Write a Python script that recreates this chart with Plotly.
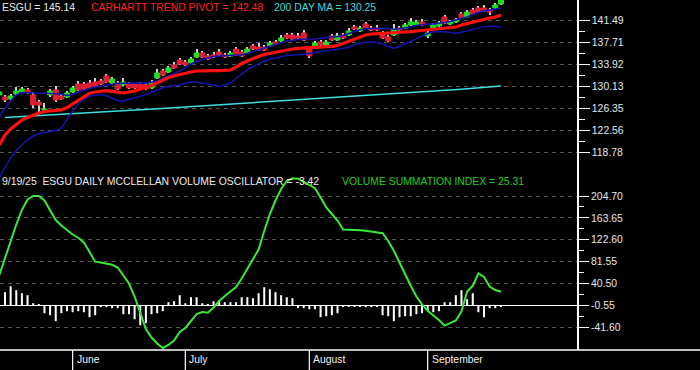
import pandas as pd
import plotly.graph_objects as go

# ---------------- data ----------------
DATES = [d for d in pd.bdate_range("2025-05-13", "2025-09-19")
         if d.strftime("%Y-%m-%d") not in ("2025-05-26", "2025-06-19", "2025-07-04", "2025-09-01")]

OPEN = [128.71, 128.36, 128.02, 128.88, 129.22, 129.57, 128.71, 127.50, 126.13, 128.71,
        129.57, 128.53, 128.36, 129.22, 130.60, 130.60, 130.77, 130.94, 131.11, 131.97,
        130.77, 130.77, 130.43, 130.60, 130.60, 130.60, 130.43, 129.91, 131.63, 132.83,
        132.66, 133.87, 134.73, 134.38, 134.21, 135.24, 135.93, 135.42, 135.59, 136.10,
        135.59, 135.42, 136.62, 136.10, 135.93, 137.14, 136.96, 136.96, 137.14, 137.82,
        138.00, 139.03, 139.03, 138.86, 139.37, 136.62, 136.79, 137.82, 137.31, 138.86,
        138.17, 139.03, 139.03, 140.40, 139.72, 140.92, 140.23, 140.23, 139.37, 138.68,
        139.03, 140.23, 140.23, 140.75, 140.75, 141.27, 138.86, 140.23, 140.58, 142.13,
        140.92, 141.27, 142.64, 142.13, 143.33, 143.67, 143.67, 143.33, 143.67, 144.36]
HIGH = [129.57, 128.71, 128.88, 130.08, 130.08, 129.91, 129.22, 127.85, 127.33, 129.74,
        130.25, 128.88, 129.39, 130.25, 131.11, 130.94, 131.29, 131.63, 131.46, 132.32,
        131.80, 131.11, 131.63, 130.94, 130.77, 130.94, 130.77, 131.29, 133.18, 133.18,
        133.69, 134.38, 135.07, 134.73, 135.24, 136.62, 136.28, 135.76, 136.10, 136.62,
        135.93, 136.28, 136.96, 136.45, 136.96, 137.48, 137.65, 137.31, 138.00, 138.17,
        139.03, 139.37, 139.37, 139.37, 139.89, 136.96, 138.00, 138.17, 138.17, 139.20,
        139.37, 139.37, 140.23, 140.75, 140.58, 141.27, 140.58, 140.75, 139.72, 139.03,
        140.92, 140.58, 141.09, 141.95, 141.61, 141.78, 139.72, 141.09, 141.44, 142.47,
        141.61, 141.95, 142.99, 143.33, 143.67, 144.02, 144.19, 143.67, 144.53, 145.22]
LOW = [128.36, 127.50, 127.85, 128.71, 129.05, 128.88, 126.47, 125.78, 125.95, 128.36,
       127.50, 127.85, 128.19, 129.05, 129.39, 129.57, 129.74, 130.08, 130.43, 130.77,
       130.60, 129.57, 130.25, 129.74, 129.74, 129.57, 129.57, 129.74, 131.46, 131.97,
       132.49, 133.18, 133.87, 133.69, 134.04, 135.07, 135.07, 134.73, 135.07, 135.42,
       135.07, 135.24, 135.42, 135.24, 135.76, 136.45, 136.28, 136.28, 136.96, 137.31,
       137.82, 138.34, 138.17, 138.17, 138.00, 135.07, 136.62, 137.14, 137.14, 138.00,
       138.00, 138.34, 138.86, 139.89, 139.54, 140.06, 139.72, 139.72, 138.34, 137.82,
       138.86, 139.72, 140.06, 140.58, 140.58, 140.58, 138.51, 140.06, 140.40, 140.92,
       140.75, 141.09, 141.78, 141.95, 142.47, 142.81, 142.99, 142.47, 143.50, 144.19]
CLOSE = [129.22, 127.85, 128.53, 129.39, 129.74, 129.05, 126.99, 126.99, 126.30, 129.39,
         127.85, 128.02, 129.05, 129.91, 129.57, 129.74, 129.91, 130.25, 130.60, 130.94,
         131.46, 129.74, 130.94, 129.91, 129.91, 129.91, 129.74, 130.77, 132.49, 132.15,
         133.35, 133.35, 134.04, 133.87, 134.90, 135.93, 135.24, 134.90, 135.24, 135.59,
         135.24, 135.93, 135.59, 135.42, 136.62, 136.62, 136.45, 136.45, 137.65, 137.48,
         138.51, 138.51, 138.34, 138.51, 138.17, 135.42, 137.65, 137.31, 137.82, 138.17,
         138.86, 138.51, 139.72, 140.06, 140.23, 140.23, 139.89, 139.89, 138.51, 138.00,
         140.06, 139.89, 140.75, 141.27, 141.27, 140.75, 139.37, 140.75, 141.09, 141.09,
         141.27, 141.61, 141.95, 142.99, 142.64, 142.99, 143.16, 142.99, 144.19, 145.14]

TREND_PIVOT = [120.10, 121.82, 122.86, 123.72, 124.40, 124.83, 125.26, 125.61, 125.87, 125.95,
               126.04, 126.12, 126.55, 127.16, 127.84, 128.53, 129.00, 129.22, 129.39, 129.45,
               129.34, 129.14, 129.05, 129.22, 129.39, 129.74, 130.00, 130.34, 130.77, 131.29,
               131.72, 131.97, 132.23, 132.49, 132.66, 132.83, 132.89, 132.89, 132.89, 132.89,
               132.92, 133.01, 133.52, 134.12, 134.55, 134.99, 135.33, 135.67, 135.88, 136.02,
               136.19, 136.45, 136.62, 136.74, 136.79, 136.84, 136.88, 136.93, 136.96, 137.08,
               137.22, 137.57, 137.91, 138.25, 138.68, 139.03, 139.20, 139.32, 139.32, 139.37,
               139.42, 139.42, 139.46, 139.60, 139.72, 139.80, 139.97, 140.06, 140.15, 140.18,
               140.18, 140.40, 140.75, 141.01, 141.26, 141.47, 141.70, 141.95, 142.13, 142.48]
UPPER_BAND = [124.92, 126.42, 127.67, 128.71, 129.14, 129.05, 129.00, 129.00, 129.00, 129.00,
              128.96, 128.88, 128.62, 128.79, 129.22, 129.57, 129.82, 130.08, 130.25, 130.43,
              130.60, 130.68, 130.72, 130.77, 130.82, 130.77, 130.72, 130.86, 131.11, 131.54,
              131.97, 132.32, 132.83, 133.44, 134.04, 134.47, 134.81, 135.07, 135.33, 135.42,
              135.54, 135.59, 135.59, 135.59, 135.85, 136.10, 136.45, 136.79, 137.05, 137.39,
              137.70, 138.00, 138.17, 138.25, 138.29, 138.29, 138.34, 138.46, 138.60, 138.68,
              138.74, 138.94, 139.29, 139.63, 139.92, 140.09, 140.15, 140.18, 140.18, 140.15,
              140.03, 140.09, 140.18, 140.40, 140.66, 140.83, 140.92, 140.92, 141.01, 141.18,
              141.35, 141.61, 141.87, 142.13, 142.56, 142.90, 143.19, 143.33, 143.50, 143.67]
LOWER_BAND = [114.60, 116.32, 117.87, 119.16, 120.19, 121.05, 121.65, 122.08, 122.25, 122.39,
              122.56, 123.03, 124.49, 125.95, 127.16, 127.93, 128.50, 128.71, 128.79, 128.57,
              128.10, 127.76, 127.67, 127.93, 128.28, 128.53, 128.79, 129.14, 129.60, 129.96,
              130.20, 130.32, 130.43, 130.72, 130.98, 130.89, 130.77, 130.65, 130.43, 130.17,
              130.43, 130.77, 131.54, 132.32, 133.01, 133.61, 134.12, 134.55, 134.85, 135.07,
              135.33, 135.50, 135.59, 135.62, 135.71, 135.85, 136.02, 136.19, 136.31, 136.40,
              136.57, 136.71, 136.91, 137.31, 137.65, 137.77, 137.82, 137.74, 137.48, 137.05,
              136.74, 137.05, 137.48, 137.96, 138.43, 138.91, 139.29, 139.60, 139.60, 139.60,
              139.46, 139.32, 139.49, 139.75, 139.99, 140.23, 140.47, 140.54, 140.52, 140.37]
MA200 = [None, 124.83, 124.88, 124.93, 124.98, 125.03, 125.08, 125.13, 125.18, 125.23,
         125.28, 125.33, 125.38, 125.43, 125.49, 125.55, 125.61, 125.67, 125.73, 125.79,
         125.85, 125.91, 125.97, 126.03, 126.09, 126.15, 126.21, 126.27, 126.33, 126.39,
         126.45, 126.51, 126.57, 126.63, 126.69, 126.75, 126.81, 126.87, 126.93, 126.99,
         127.05, 127.11, 127.17, 127.23, 127.29, 127.35, 127.41, 127.47, 127.53, 127.59,
         127.65, 127.71, 127.77, 127.83, 127.89, 127.95, 128.01, 128.07, 128.13, 128.19,
         128.25, 128.31, 128.37, 128.43, 128.49, 128.55, 128.61, 128.67, 128.73, 128.79,
         128.85, 128.91, 128.97, 129.03, 129.09, 129.15, 129.21, 129.29, 129.37, 129.45,
         129.53, 129.61, 129.69, 129.77, 129.85, 129.93, 130.01, 130.09, 130.17, 130.25]

VOL_SUMMATION = [56.62, 88.49, 120.35, 151.28, 178.46, 198.14, 204.70, 204.70, 196.27, 176.58,
                 159.71, 149.41, 140.60, 132.54, 126.54, 117.54, 99.73, 81.55, 80.05, 78.55,
                 75.74, 70.68, 56.62, 40.69, 16.32, -12.73, -44.60, -60.53, -71.59, -80.21,
                 -74.59, -66.15, -50.22, -42.72, -29.60, -16.48, -12.73, -14.04, -4.30, 7.89,
                 17.26, 25.69, 34.13, 50.06, 67.49, 85.11, 104.42, 139.10, 170.96, 196.27,
                 217.82, 232.82, 237.88, 237.13, 230.94, 225.32, 219.32, 201.70, 183.52, 170.96,
                 158.78, 141.91, 140.97, 140.97, 140.41, 139.66, 138.53, 136.85, 134.97, 120.35,
                 102.17, 80.05, 57.56, 36.57, 16.32, 1.70, -10.48, -18.92, -27.73, -38.22,
                 -33.72, -28.66, -11.79, 25.69, 36.38, 59.43, 52.87, 35.07, 28.51, 25.31]
MCCLELLAN_OSC = [None, 24.37, 35.61, 28.12, 22.49, 18.74, 3.75, 0.94, -15.00, -18.74,
                 -29.99, -15.00, -11.25, -13.12, -11.25, -13.12, -22.49, -18.74, -3.75, -3.75,
                 -5.62, -5.62, -16.87, -16.87, -26.24, -37.49, -33.74, -16.87, -15.00, -11.25,
                 5.62, 7.50, 18.74, 3.75, 15.00, 15.00, 3.75, 1.87, 7.50, 9.37,
                 5.62, 5.62, 5.62, 15.00, 15.00, 13.12, 22.49, 33.74, 29.99, 24.37,
                 18.74, 15.00, 13.12, -5.62, -5.62, -7.50, -7.50, -22.49, -20.62, -18.74,
                 -15.00, -1.87, -1.87, -1.87, -1.87, -3.75, -3.75, -1.87, -18.74, -20.62,
                 -29.99, -22.49, -20.62, -20.62, -16.87, -15.00, -11.25, -13.12, -11.25, 5.62,
                 5.62, 18.74, 28.12, 11.25, 22.49, -13.12, -22.49, -5.62, -5.62, -3.42]

PRICE_TICKS = [141.49, 137.71, 133.92, 130.13, 126.35, 122.56, 118.78]
OSC_TICKS = [204.70, 163.65, 122.60, 81.55, 40.50, -0.55, -41.60]

# ---------------- figure ----------------
X = list(range(len(DATES)))
FONT = "Arial, Liberation Sans, sans-serif"
FS = 10.4
UP, DOWN = "#22dd22", "#dd1f35"

fig = go.Figure()

# wicks (thin bars so they sit beneath the bodies)
fig.add_trace(go.Bar(
    x=X, base=LOW, y=[h - l for h, l in zip(HIGH, LOW)], width=0.18,
    marker=dict(color="#cfcfcf", line=dict(width=0)), hoverinfo="skip", yaxis="y"))

# candle bodies
body_colors = [UP if c >= o else DOWN for o, c in zip(OPEN, CLOSE)]
fig.add_trace(go.Bar(
    x=X,
    base=[min(o, c) for o, c in zip(OPEN, CLOSE)],
    y=[abs(c - o) for o, c in zip(OPEN, CLOSE)],
    width=0.9,
    marker=dict(color=body_colors, line=dict(width=1, color=body_colors)),
    yaxis="y"))

fig.add_trace(go.Bar(x=X, y=MCCLELLAN_OSC, width=0.36, marker=dict(color="white", line=dict(width=0)),
                     yaxis="y2"))

fig.add_trace(go.Scatter(x=X, y=MA200, mode="lines", line=dict(color="#40dede", width=1.5), yaxis="y"))
fig.add_trace(go.Scatter(x=X, y=LOWER_BAND, mode="lines", line=dict(color="#1414b0", width=1.5), yaxis="y"))
fig.add_trace(go.Scatter(x=X, y=UPPER_BAND, mode="lines", line=dict(color="#1414b0", width=1.5), yaxis="y"))
fig.add_trace(go.Scatter(x=X, y=TREND_PIVOT, mode="lines", line=dict(color="#ff1010", width=3.2), yaxis="y"))
fig.add_trace(go.Scatter(x=X, y=VOL_SUMMATION, mode="lines", line=dict(color="#3ae83a", width=2),
                         yaxis="y2"))

axis_common = dict(
    side="right", ticks="outside", ticklen=11, tickwidth=1, tickcolor="white",
    tickfont=dict(family=FONT, size=FS, color="#e6e6e6"),
    showgrid=True, gridcolor="#555555", griddash="4px,4px", gridwidth=1,
    fixedrange=True,
)

fig.update_layout(
    width=700, height=370,
    margin=dict(l=0, r=123, t=0, b=20),
    paper_bgcolor="black", plot_bgcolor="black",
    showlegend=False, barmode="overlay",
    xaxis=dict(range=[0.112, 102.5], visible=False, fixedrange=True),
    yaxis=dict(range=[84.83, 145.05], tickvals=PRICE_TICKS, ticktext=[f"{v:.2f}" for v in PRICE_TICKS],
               zeroline=False, showline=True, linecolor="white", linewidth=1.5,
               minor=dict(tickvals=[(a + b) / 2 for a, b in zip(PRICE_TICKS[:-1], PRICE_TICKS[1:])],
                          ticks="outside", ticklen=6, tickcolor="white", showgrid=False),
               **axis_common),
    yaxis2=dict(range=[-83.96, 572.1], overlaying="y", tickvals=OSC_TICKS,
                ticktext=[f"{v:.2f}" for v in OSC_TICKS],
                zeroline=True, zerolinecolor="white", zerolinewidth=1.2, showline=False,
                minor=dict(tickvals=[(a + b) / 2 for a, b in zip(OSC_TICKS[:-1], OSC_TICKS[1:])],
                           ticks="outside", ticklen=6, tickcolor="white", showgrid=False),
                **axis_common),
)

PW, PH = 577.0, 350.0
shapes = [dict(type="line", xref="paper", yref="paper", x0=0, x1=700 / PW, y0=0, y1=0,
               line=dict(color="white", width=1.5))]
annotations = []
prev_month = None
for i, d in enumerate(DATES):
    if prev_month is not None and d.month != prev_month:
        shapes.append(dict(type="line", xref="x", yref="paper", x0=i, x1=i, y0=0, y1=-20 / PH,
                           line=dict(color="white", width=1.2)))
        annotations.append(dict(text=d.strftime("%B"), xref="x", x=i, xanchor="left", xshift=2,
                                yref="paper", y=-10 / PH, yanchor="middle", showarrow=False,
                                font=dict(family=FONT, size=FS, color="#f0f0f0")))
    prev_month = d.month


def label(text, px, py, color):
    annotations.append(dict(text=text, xref="paper", yref="paper", x=px / PW, y=1 - py / PH,
                            xanchor="left", yanchor="middle", showarrow=False,
                            font=dict(family=FONT, size=FS, color=color)))


label(f"ESGU = {CLOSE[-1]:.2f}", 0, 7, "#e8e8e8")
label(f"CARHARTT TREND PIVOT = {TREND_PIVOT[-1]:.2f}", 89, 7, "#ff2222")
label(f"200 DAY MA = {MA200[-1]:.2f}", 272, 7, "#3fd8d8")
last = DATES[-1]
label(f"{last.month}/{last.day}/{last.strftime('%y')}\u00a0 ESGU DAILY MCCLELLAN VOLUME OSCILLATOR = {MCCLELLAN_OSC[-1]:.2f}",
      0, 181, "#ececec")
label(f"VOLUME SUMMATION INDEX = {VOL_SUMMATION[-1]:.2f}", 340, 181, "#22cc22")

fig.update_layout(shapes=shapes, annotations=annotations)
fig.write_html("out.html", config={"displayModeBar": False},
               post_script="document.body.style.margin='0';document.body.style.overflow='hidden';")
